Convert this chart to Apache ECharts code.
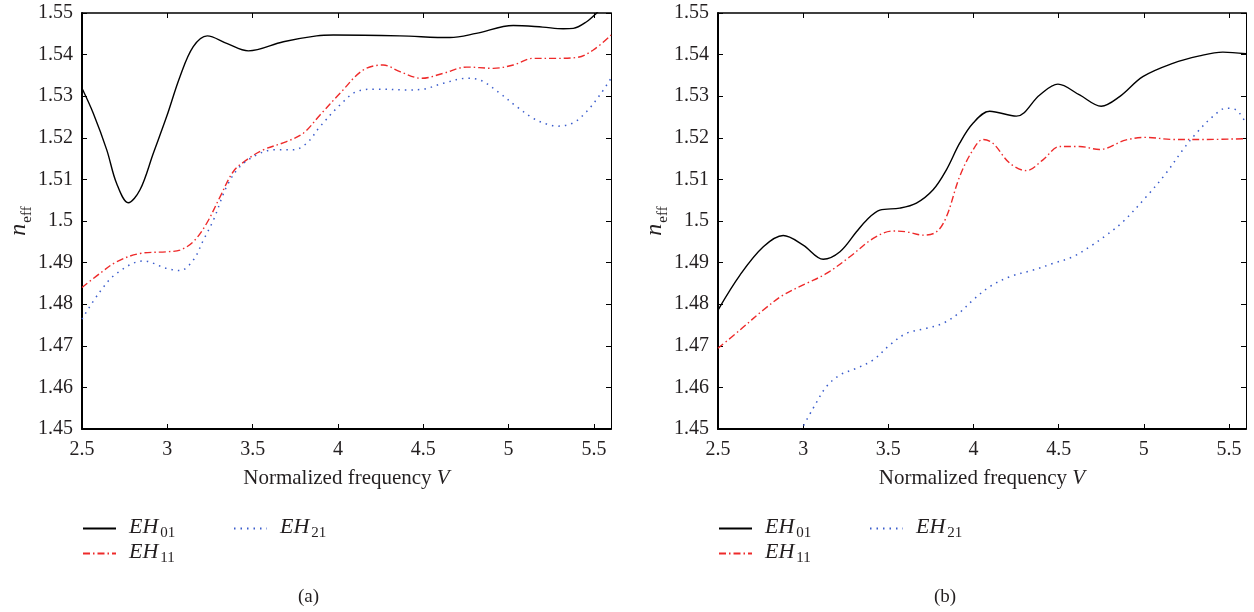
<!DOCTYPE html>
<html>
<head>
<meta charset="utf-8">
<script src="https://cdn.jsdelivr.net/npm/echarts@6/dist/echarts.min.js"></script>
<style>
  html, body { margin: 0; padding: 0; background: #fff; }
  #chart { width: 1254px; height: 612px; }
</style>
</head>
<body>
<div id="chart"></div>
<script>
// panel (a)
const aV01 = [2.5, 2.566, 2.645, 2.703, 2.771, 2.84, 2.918, 2.996, 3.074, 3.152, 3.234, 3.348, 3.475, 3.68, 3.875, 3.973, 4.363, 4.656, 4.81, 5.027, 5.2, 5.32, 5.379, 5.457, 5.516, 5.6];
const aN01 = [1.5319, 1.5259, 1.5171, 1.509, 1.5044, 1.5075, 1.5163, 1.5251, 1.5347, 1.5419, 1.5445, 1.5427, 1.5409, 1.5431, 1.5445, 1.5447, 1.5445, 1.5441, 1.5451, 1.547, 1.5466, 1.5462, 1.5463, 1.5479, 1.55, 1.5535];

const aV11 = [2.5, 2.605, 2.703, 2.84, 2.996, 3.074, 3.152, 3.23, 3.309, 3.387, 3.465, 3.562, 3.699, 3.797, 3.895, 4.012, 4.148, 4.265, 4.363, 4.49, 4.617, 4.754, 4.91, 5.027, 5.144, 5.281, 5.398, 5.496, 5.6];
const aN11 = [1.484, 1.4874, 1.4902, 1.4922, 1.4926, 1.493, 1.495, 1.4994, 1.5058, 1.5119, 1.5147, 1.5171, 1.5191, 1.5211, 1.5255, 1.5307, 1.5363, 1.5375, 1.5359, 1.5343, 1.5355, 1.537, 1.5367, 1.5375, 1.5391, 1.5391, 1.5393, 1.5411, 1.5447];

const aV21 = [2.5, 2.605, 2.703, 2.86, 2.996, 3.074, 3.152, 3.211, 3.27, 3.348, 3.426, 3.524, 3.621, 3.738, 3.817, 3.895, 4.012, 4.109, 4.226, 4.402, 4.5, 4.617, 4.754, 4.832, 4.949, 5.047, 5.144, 5.223, 5.291, 5.379, 5.457, 5.535, 5.6];
const aN21 = [1.4764, 1.483, 1.4874, 1.4904, 1.4886, 1.4881, 1.4906, 1.4954, 1.5002, 1.5083, 1.5131, 1.5159, 1.5171, 1.5171, 1.5187, 1.5227, 1.5279, 1.5311, 1.5317, 1.5315, 1.5317, 1.5331, 1.5343, 1.5339, 1.5307, 1.5275, 1.5247, 1.5233, 1.5228, 1.5236, 1.5263, 1.5303, 1.5343];

// panel (b)
const bV01 = [2.5, 2.629, 2.766, 2.883, 3.0, 3.118, 3.216, 3.313, 3.372, 3.45, 3.567, 3.665, 3.763, 3.841, 3.919, 3.997, 4.095, 4.252, 4.389, 4.496, 4.623, 4.75, 4.858, 4.994, 5.17, 5.327, 5.464, 5.6];
const bN01 = [1.4786, 1.487, 1.4938, 1.4965, 1.4942, 1.4908, 1.4926, 1.4974, 1.5002, 1.5026, 1.5031, 1.5043, 1.5075, 1.5123, 1.5187, 1.5235, 1.5264, 1.5252, 1.5303, 1.5329, 1.5303, 1.5276, 1.5299, 1.5347, 1.5379, 1.5397, 1.5406, 1.5402];

const bV11 = [2.5, 2.629, 2.766, 2.883, 3.02, 3.137, 3.274, 3.411, 3.528, 3.606, 3.704, 3.783, 3.841, 3.919, 3.997, 4.056, 4.114, 4.213, 4.311, 4.408, 4.506, 4.623, 4.74, 4.897, 5.014, 5.17, 5.366, 5.6];
const bN11 = [1.4694, 1.4738, 1.4786, 1.4822, 1.485, 1.4874, 1.4914, 1.4958, 1.4976, 1.4974, 1.4966, 1.4974, 1.501, 1.5107, 1.5171, 1.5196, 1.5187, 1.5139, 1.5121, 1.5147, 1.5179, 1.5179, 1.5172, 1.5195, 1.5201, 1.5196, 1.5196, 1.5198];

const bV21 = [2.985, 3.059, 3.137, 3.216, 3.313, 3.411, 3.509, 3.606, 3.724, 3.821, 3.919, 3.997, 4.095, 4.213, 4.35, 4.467, 4.584, 4.682, 4.78, 4.877, 5.014, 5.131, 5.229, 5.308, 5.405, 5.483, 5.542, 5.6];
const bN21 = [1.4495, 1.455, 1.4602, 1.463, 1.4646, 1.4666, 1.4702, 1.473, 1.4742, 1.4754, 1.478, 1.481, 1.4842, 1.4866, 1.4882, 1.4898, 1.4914, 1.4938, 1.4966, 1.4998, 1.5058, 1.5115, 1.5171, 1.5211, 1.5251, 1.5271, 1.5267, 1.5235];

const xTicks = [2.5, 3, 3.5, 4, 4.5, 5, 5.5];
const panelLabels = ["(a)", "(b)"];

const FONT = "Liberation Serif";
const zip = (xs, ys) => xs.map((x, i) => [x, ys[i]]);

const styles = {
  EH01: { color: "#000000", width: 1.4, type: "solid" },
  EH11: { color: "#ee2a2a", width: 1.4, type: [7, 3, 1.5, 3] },
  EH21: { color: "#3a5ccc", width: 1.5, type: [1.5, 5] },
};

const chart = echarts.init(document.getElementById("chart"));

const grids = [
  { left: 82, top: 13, width: 529, height: 416 },
  { left: 718, top: 13, width: 528, height: 416 },
];

const tickStyle = { color: "#000", width: 1 };
const labelColor = "#231f20";

const xAxes = [];
const yAxes = [];
grids.forEach((g, gi) => {
  xAxes.push({
    gridIndex: gi, type: "value", min: 2.5, max: 5.6, interval: 0.5,
    axisLine: { onZero: false, lineStyle: { color: "#000", width: 2 } },
    axisTick: { inside: true, length: 5, lineStyle: tickStyle },
    axisLabel: {
      margin: 11, fontSize: 20, fontFamily: FONT, color: labelColor,
      formatter: (v) => (xTicks.some((t) => Math.abs(t - v) < 1e-6) ? String(v) : ""),
    },
    splitLine: { show: false },
    name: "{t|Normalized frequency }{v|V}",
    nameLocation: "middle",
    nameGap: 39,
    nameTextStyle: {
      rich: {
        t: { fontSize: 21, fontFamily: FONT, color: labelColor },
        v: { fontSize: 21, fontFamily: FONT, fontStyle: "italic", color: labelColor },
      },
    },
  });
  xAxes.push({
    gridIndex: gi, type: "value", min: 2.5, max: 5.6, interval: 0.5, position: "top",
    axisLine: { onZero: false, lineStyle: { color: "#000", width: 1.5 } },
    axisTick: { inside: true, length: 5, lineStyle: tickStyle },
    axisLabel: { show: false },
    splitLine: { show: false },
  });
  yAxes.push({
    gridIndex: gi, type: "value", min: 1.45, max: 1.55, interval: 0.01,
    axisLine: { onZero: false, lineStyle: { color: "#000", width: 2 } },
    axisTick: { inside: true, length: 5, lineStyle: tickStyle },
    axisLabel: { margin: 9, fontSize: 20, fontFamily: FONT, color: labelColor },
    splitLine: { show: false },
    name: "{n|n}{s|eff}",
    nameLocation: "middle",
    nameGap: 36,
    nameRotate: 90,
    nameTextStyle: {
      rich: {
        n: { fontSize: 24, fontFamily: FONT, fontStyle: "italic", color: labelColor, verticalAlign: "top", lineHeight: 26 },
        s: { fontSize: 15, fontFamily: FONT, color: labelColor, verticalAlign: "top", padding: [12, 0, 0, 1] },
      },
    },
  });
  yAxes.push({
    gridIndex: gi, type: "value", min: 1.45, max: 1.55, interval: 0.01, position: "right",
    axisLine: { onZero: false, lineStyle: { color: "#000", width: 1 } },
    axisTick: { inside: true, length: 5, lineStyle: tickStyle },
    axisLabel: { show: false },
    splitLine: { show: false },
  });
});

const panels = [
  { EH01: zip(aV01, aN01), EH11: zip(aV11, aN11), EH21: zip(aV21, aN21) },
  { EH01: zip(bV01, bN01), EH11: zip(bV11, bN11), EH21: zip(bV21, bN21) },
];

const series = [];
panels.forEach((p, gi) => {
  Object.keys(p).forEach((name) => {
    const st = styles[name];
    series.push({
      name, type: "line",
      xAxisIndex: gi * 2, yAxisIndex: gi * 2,
      data: p[name],
      smooth: 0.35,
      symbol: "none", showSymbol: false,
      clip: true,
      lineStyle: { color: st.color, width: st.width, type: st.type },
      itemStyle: { color: st.color },
    });
  });
});

const legendBase = {
  formatter: (name) => "{i|EH}{s|" + name.slice(2) + "}",
  textStyle: {
    rich: {
      i: { fontSize: 22, fontFamily: FONT, fontStyle: "italic", color: labelColor, verticalAlign: "top", lineHeight: 22, padding: [0, 0, 0, 8] },
      s: { fontSize: 15, fontFamily: FONT, color: labelColor, verticalAlign: "top", padding: [10, 0, 0, 2] },
    },
  },
  orient: "vertical",
  padding: 0,
  itemWidth: 33,
  itemHeight: 14,
  itemGap: 0,
  itemStyle: { opacity: 0 },
  selectedMode: false,
};

const legends = [
  { ...legendBase, data: ["EH01", "EH11"], left: 82, top: 516 },
  { ...legendBase, data: ["EH21"], left: 233, top: 516 },
  { ...legendBase, data: ["EH01", "EH11"], left: 718, top: 516 },
  { ...legendBase, data: ["EH21"], left: 869, top: 516 },
];

chart.setOption({
  animation: false,
  textStyle: { fontFamily: FONT },
  title: [
    { text: panelLabels[0], left: 293, top: 583, textStyle: { fontSize: 19, fontWeight: "normal", fontFamily: FONT, color: labelColor } },
    { text: panelLabels[1], left: 929, top: 583, textStyle: { fontSize: 19, fontWeight: "normal", fontFamily: FONT, color: labelColor } },
  ],
  grid: grids,
  xAxis: xAxes,
  yAxis: yAxes,
  legend: legends,
  series,
});
</script>
</body>
</html>
